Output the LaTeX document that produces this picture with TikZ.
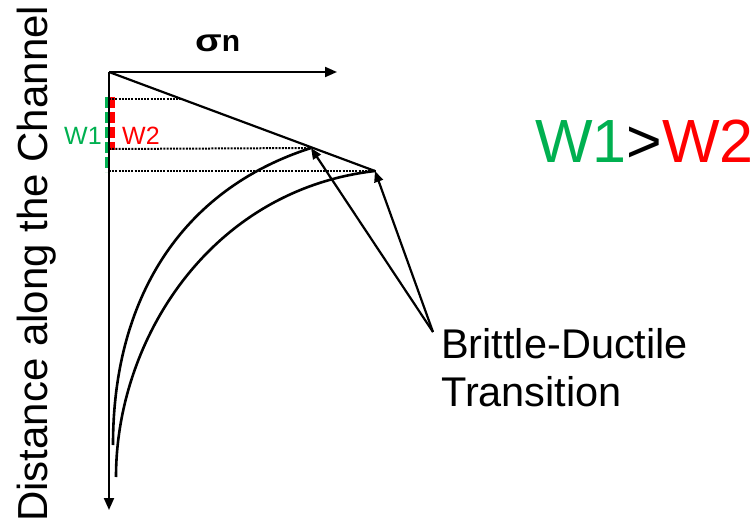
\documentclass[tikz,border=0pt]{standalone}
\usepackage{fontspec}
\setmainfont{Liberation Sans}
\usetikzlibrary{arrows.meta}
\definecolor{wgreen}{RGB}{0,176,80}
\definecolor{wred}{RGB}{255,0,0}
\tikzset{
  axisline/.style={line width=2pt,-{Triangle[length=12pt,width=10pt]}},
  curveline/.style={line width=2.6pt},
  guide/.style={line width=2pt,dash pattern=on 2pt off 1.2pt},
  pointer/.style={line width=2.2pt,-{Triangle[length=11pt,width=9pt]}},
  wdash/.style={line width=5pt,dash pattern=on 11pt off 4pt},
  lbl/.style={inner sep=0pt,anchor=base west},
}
\begin{document}
\begin{tikzpicture}[x=1pt,y=-1pt]
\useasboundingbox (0,0) rectangle (756,527);
% key points
\coordinate (O) at (109,72);
\coordinate (Xend) at (337,72);
\coordinate (Yend) at (109,510);
\coordinate (A) at (311,148);
\coordinate (B) at (375,171);
\coordinate (C1) at (113,445);
\coordinate (C2) at (116,477);
\coordinate (D0) at (109,99);
\coordinate (D0e) at (181,99);
\coordinate (D1) at (109,149);
\coordinate (D2) at (109,171);
% W dashes
\draw[wdash,wgreen] (107.5,97) -- (107.5,172);
\draw[wdash,wred] (112.5,97) -- (112.5,150);
% guide lines
\draw[guide] (D0) -- (D0e);
\draw[guide] (D1) -- (A);
\draw[guide] (D2) -- (B);
% axes
\draw[axisline] (O) -- (Xend);
\draw[axisline] (O) -- (Yend);
% envelope line
\draw[line width=2.2pt] (O) -- (B);
% curves
\draw[curveline] (C1) .. controls (113,300) and (180,190) .. (A);
\draw[curveline] (C2) .. controls (116,340) and (210,190) .. (B);
% labels
\node[lbl,font=\fontsize{30}{34}\selectfont\bfseries] (sig) at (195,52) {\scalebox{1.3}[1.05]{σ}n};
\node[lbl,font=\fontsize{25}{29}\selectfont,text=wgreen] (w1) at (64,145) {W1};
\node[lbl,font=\fontsize{25}{29}\selectfont,text=wred] (w2) at (122,145) {W2};
\node[lbl,font=\fontsize{61}{70}\selectfont] (cmp) at (535,162) {\textcolor{wgreen}{W1}>\textcolor{wred}{W2}};
\node[lbl,font=\fontsize{42}{48}\selectfont,rotate=90] (ylab) at (47,522) {Distance along the Channel};
\node[inner sep=0pt,anchor=north west,align=left,font=\fontsize{41.5}{48}\selectfont] (bt) at (441,328) {Brittle-Ductile\\Transition};
\coordinate (btip) at ([xshift=-8pt,yshift=-4pt]bt.north west);
\draw[pointer] (btip) -- (A);
\draw[pointer] (btip) -- (B);
\end{tikzpicture}
\end{document}
